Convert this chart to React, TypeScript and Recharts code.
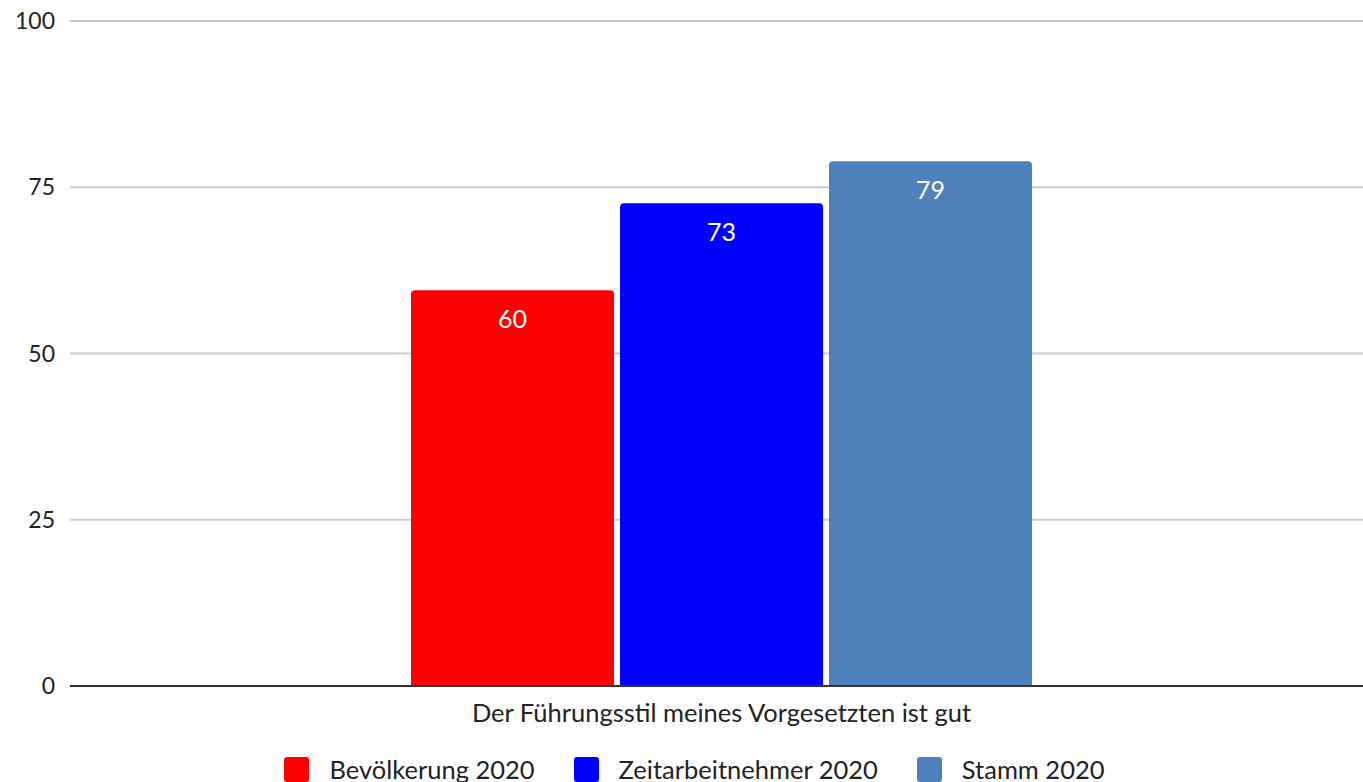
import {
  BarChart,
  Bar,
  XAxis,
  YAxis,
  CartesianGrid,
  Legend,
  LabelList,
} from "recharts";

const CATEGORIES = ["Der Führungsstil meines Vorgesetzten ist gut"];
const SERIES_KEYS = ["bev", "zeit", "stamm"];
const SERIES_NAMES = ["Bevölkerung 2020", "Zeitarbeitnehmer 2020", "Stamm 2020"];
const SERIES_COLORS = ["#ff0000", "#0000ff", "#4f81bd"];
const BEV_VALUES = [59.5];
const ZEIT_VALUES = [72.6];
const STAMM_VALUES = [78.9];
const Y_TICKS = [0, 25, 50, 75, 100];

const FONT = "Lato, 'Open Sans', sans-serif";

const data = CATEGORIES.map((name, i) => ({
  name,
  bev: BEV_VALUES[i],
  zeit: ZEIT_VALUES[i],
  stamm: STAMM_VALUES[i],
}));

// legend drawn by hand: rounded squares + text, as in the source
function LegendRow() {
  return (
    <div
      style={{
        display: "flex",
        justifyContent: "center",
        alignItems: "center",
        paddingTop: 28,
        paddingLeft: 26,
        fontFamily: FONT,
        fontSize: 25.5,
        lineHeight: "30px",
        color: "#222",
      }}
    >
      {SERIES_NAMES.map((n, i) => (
        <div key={n} style={{ display: "flex", alignItems: "center", marginRight: i < 2 ? 39 : 0 }}>
          <span
            style={{
              display: "inline-block",
              width: 25,
              height: 25,
              borderRadius: 3,
              background: SERIES_COLORS[i],
              marginRight: 20,
            }}
          />
          <span>{n}</span>
        </div>
      ))}
    </div>
  );
}

export default function App() {
  return (
    <div style={{ width: 1363, height: 782, background: "#fff" }}>
      <style>{"body{margin:0}"}</style>
      <BarChart
        width={1363}
        height={782}
        data={data}
        margin={{ top: 21, right: 0, left: 0, bottom: 0 }}
        barCategoryGap={331}
        barGap={6}
      >
        <CartesianGrid vertical={false} stroke="#cccccc" strokeWidth={2} />
        <XAxis
          dataKey="name"
          height={40}
          padding={{ left: 10, right: 0 }}
          axisLine={{ stroke: "#333", strokeWidth: 2 }}
          tickLine={false}
          tick={{ fontSize: 25.5, fill: "#222", fontFamily: FONT }}
          tickMargin={12}
        />
        <YAxis
          domain={[0, 100]}
          ticks={Y_TICKS}
          width={70}
          axisLine={false}
          tickLine={false}
          tick={{ fontSize: 23, fill: "#222", fontFamily: FONT }}
          tickMargin={9}
        />
        <Legend verticalAlign="bottom" height={56} content={() => <LegendRow />} />
        {SERIES_KEYS.map((k, i) => (
          <Bar
            key={k}
            dataKey={k}
            name={SERIES_NAMES[i]}
            fill={SERIES_COLORS[i]}
            radius={[4, 4, 0, 0]}
            isAnimationActive={false}
          >
            <LabelList
              dataKey={k}
              position="insideTop"
              offset={20}
              formatter={(v: number) => Math.round(v)}
              style={{ fill: "#fff", fontSize: 25, fontFamily: FONT }}
            />
          </Bar>
        ))}
      </BarChart>
    </div>
  );
}
